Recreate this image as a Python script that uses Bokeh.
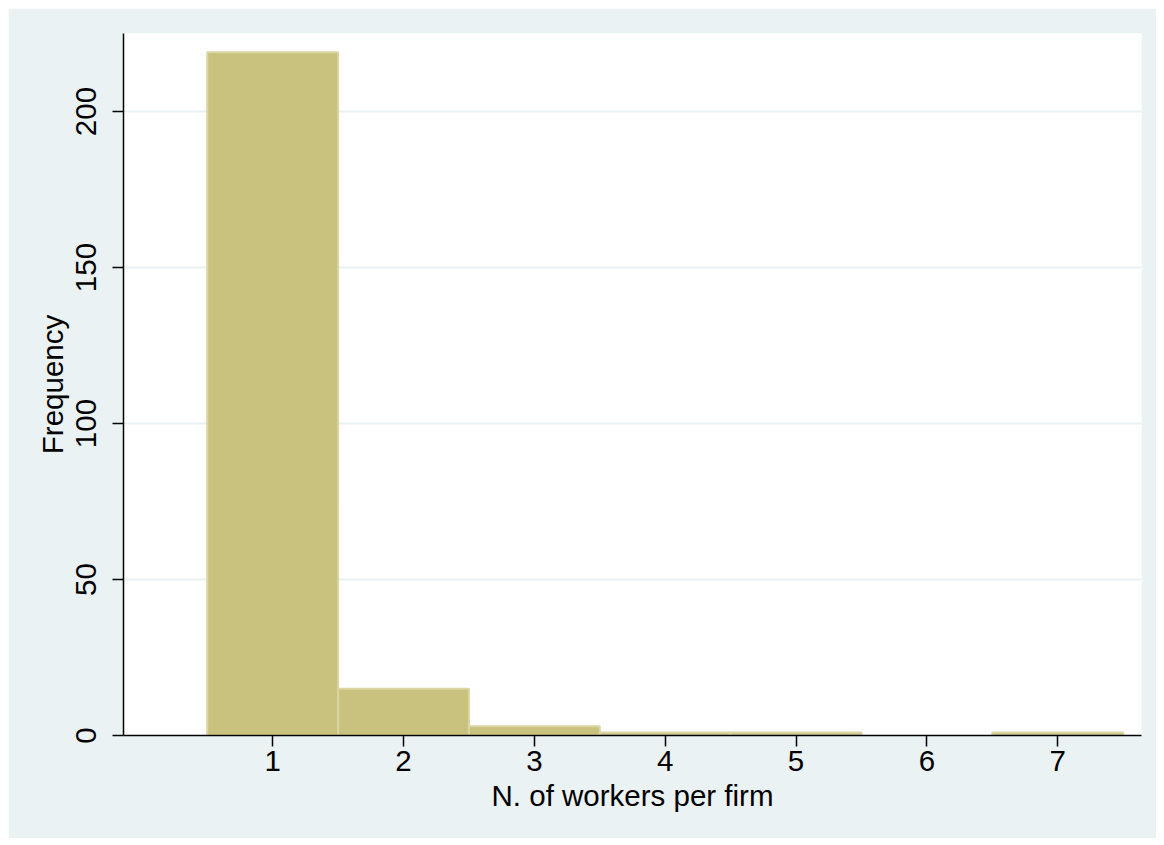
from bokeh.plotting import figure
from bokeh.models import Range1d, FixedTicker
from bokeh.embed import file_html
from bokeh.resources import INLINE

# Data
workers = [1, 2, 3, 4, 5, 6, 7]
frequency = [219, 15, 3, 1, 1, 0, 1]
x_ticks = [1, 2, 3, 4, 5, 6, 7]
y_ticks = [0, 50, 100, 150, 200]

BG = "#eaf2f3"
FONT = "Liberation Sans"

p = figure(width=1148, height=830, output_backend="svg", toolbar_location=None,
           x_range=Range1d(-0.14, 7.64), y_range=Range1d(0, 225),
           background_fill_color="white", border_fill_color=BG,
           min_border_left=115, min_border_right=15, min_border_top=25, min_border_bottom=103)
p.margin = (8, 8, 8, 8)
p.outline_line_color = None

xs = [w for w, f in zip(workers, frequency) if f > 0]
fs = [f for f in frequency if f > 0]
p.vbar(x=xs, top=fs, bottom=0, width=1.0, fill_color="#c9c27f",
       line_color="#dad5a2", line_width=2)

p.xgrid.grid_line_color = None
p.ygrid.grid_line_color = BG
p.ygrid.grid_line_width = 2
p.ygrid.ticker = FixedTicker(ticks=y_ticks[1:])

p.xaxis.ticker = FixedTicker(ticks=x_ticks)
p.yaxis.ticker = FixedTicker(ticks=y_ticks)
for ax in (p.xaxis[0], p.yaxis[0]):
    ax.axis_line_color = "black"
    ax.axis_line_width = 1.5
    ax.major_tick_line_color = "black"
    ax.major_tick_line_width = 1.5
    ax.major_tick_out = 11
    ax.major_tick_in = 0
    ax.minor_tick_line_color = None
    ax.major_label_text_font = FONT
    ax.major_label_text_font_size = "29.5px"
    ax.major_label_text_color = "black"
    ax.axis_label_text_font = FONT
    ax.axis_label_text_font_size = "29.5px"
    ax.axis_label_text_font_style = "normal"
    ax.axis_label_text_color = "black"

p.yaxis.major_label_orientation = "vertical"
p.xaxis.axis_label = "N. of workers per firm"
p.yaxis.axis_label = "Frequency"
p.xaxis.major_label_standoff = 4
p.yaxis.major_label_standoff = 17
p.xaxis.axis_label_standoff = 5
p.yaxis.axis_label_standoff = 4

open("out.html", "w").write(file_html(p, INLINE))
